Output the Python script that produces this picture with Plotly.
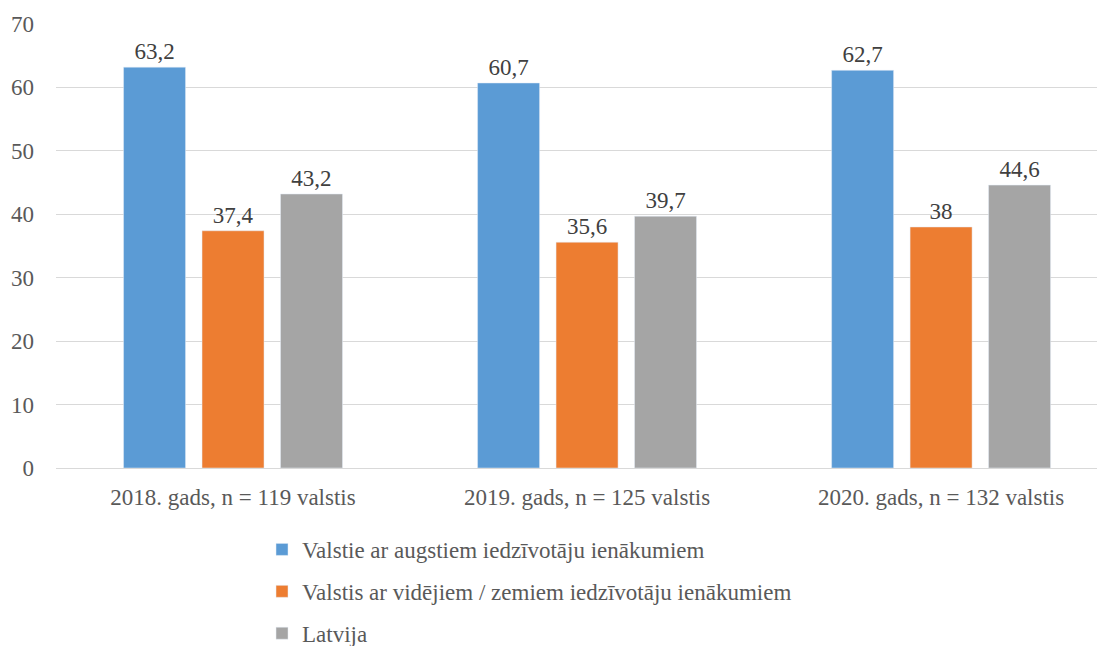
import plotly.graph_objects as go

gadi = ['2018. gads, n = 119 valstis', '2019. gads, n = 125 valstis', '2020. gads, n = 132 valstis']
augsti = [63.2, 60.7, 62.7]
videji = [37.4, 35.6, 38]
latvija = [43.2, 39.7, 44.6]

nosaukumi = ['Valstie ar augstiem iedzīvotāju ienākumiem',
             'Valstis ar vidējiem / zemiem iedzīvotāju ienākumiem',
             'Latvija']
krasas = ['#5B9BD5', '#ED7D31', '#A5A5A5']

serif = 'Liberation Serif'

def fmt(v):
    return ('%g' % v).replace('.', ',')

fig = go.Figure()
for i, (vert, nos) in enumerate(zip([augsti, videji, latvija], nosaukumi)):
    fig.add_trace(go.Bar(
        x=gadi, y=vert, name=nos, marker_color=krasas[i],
        text=[fmt(v) for v in vert], textposition='outside',
        textfont=dict(family=serif, size=23, color='#404040'),
        cliponaxis=False, legendgroup=str(i)))

# lapas body atkāpe 8px, tāpēc figūra mazliet mazāka;
# oriģinālā zīmēšanas laukums turpinās aiz labās malas
fig.update_layout(
    width=1097, height=638,
    paper_bgcolor='white', plot_bgcolor='white',
    font=dict(family=serif, size=23, color='#595959'),
    margin=dict(l=48, r=0, t=16, b=178, autoexpand=False),
    barmode='group', bargap=0.335, bargroupgap=0.21,
    showlegend=True,
    legend=dict(orientation='v', x=0.1964, xanchor='left',
                yref='container', y=0.185, yanchor='top',
                font=dict(family=serif, size=23, color='#595959'), tracegroupgap=9,
                itemwidth=30),
    yaxis=dict(range=[0, 70], dtick=10, showgrid=True, gridcolor='#D9D9D9',
               gridwidth=1, zeroline=True, zerolinecolor='#D9D9D9', zerolinewidth=1,
               showline=False, ticklabelstandoff=21, automargin=False,
               tickfont=dict(family=serif, size=23, color='#595959')),
    xaxis=dict(showline=False, ticks='', ticklabelstandoff=13, automargin=False,
               range=[-0.5, 2.463],
               tickfont=dict(family=serif, size=23, color='#595959')),
)

fig.write_html('out.html')
